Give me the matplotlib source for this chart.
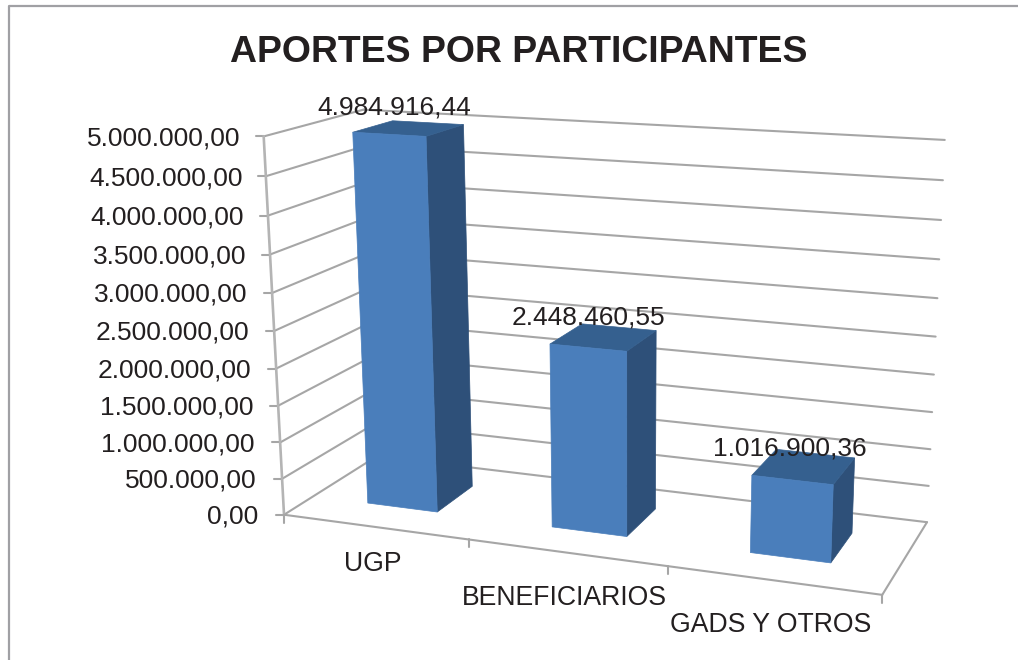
import numpy as np
import matplotlib
matplotlib.use('Agg')
import matplotlib.pyplot as plt
from matplotlib.patches import Polygon

plt.rcParams['font.family'] = ['Liberation Sans', 'DejaVu Sans']

categories = ['UGP', 'BENEFICIARIOS', 'GADS Y OTROS']
aportes = [4984916.44, 2448460.55, 1016900.36]
aporte_labels = ['4.984.916,44', '2.448.460,55', '1.016.900,36']
y_ticks = [0, 500000, 1000000, 1500000, 2000000, 2500000,
           3000000, 3500000, 4000000, 4500000, 5000000]
y_labels = ['0,00', '500.000,00', '1.000.000,00', '1.500.000,00', '2.000.000,00',
            '2.500.000,00', '3.000.000,00', '3.500.000,00', '4.000.000,00',
            '4.500.000,00', '5.000.000,00']
y_max = 5000000.0

# corners of the 3d box in image pixels: (u, v, depth) -> (x, y)
box = [((0, 0, 0), (283, 515)), ((0, 1, 0), (265, 136)),
       ((0, 0, 1), (378, 456)), ((0, 1, 1), (362, 110)),
       ((1, 0, 1), (927, 522)), ((1, 1, 1), (945, 140)),
       ((1, 0, 0), (882, 595))]

rows = []
for (u, v, d), (x, y) in box:
    x, y = x / 1000, y / 1000
    rows.append([u, v, d, 1, 0, 0, 0, 0, -x*u, -x*v, -x*d, -x])
    rows.append([0, 0, 0, 0, u, v, d, 1, -y*u, -y*v, -y*d, -y])
M = np.linalg.svd(np.array(rows))[2][-1].reshape(3, 4)


def project(u, value, d):
    p = M @ np.array([u, value / y_max, d, 1.0])
    return 1000 * p[0] / p[2], 1000 * p[1] / p[2]


def line(a, b, **kw):
    pts = [project(*a), project(*b)]
    ax.plot([pts[0][0], pts[1][0]], [pts[0][1], pts[1][1]], **kw)


fig = plt.figure(figsize=(10.18, 6.6), dpi=100)
ax = fig.add_axes([0, 0, 1, 1])
ax.set_xlim(0, 1018)
ax.set_ylim(660, 0)
ax.axis('off')

# outer chart frame, right and bottom are cut off in the original
ax.plot([9.5, 9.5, 1018], [660, 6, 6], color='#a0a0a4', lw=1.6, zorder=1)

grid = dict(color='#a6a6a6', lw=1.5, zorder=2, solid_capstyle='round')
for val, lab in zip(y_ticks, y_labels):
    line((0, val, 0), (0, val, 1), **grid)
    line((0, val, 1), (1, val, 1), **grid)
    x, y = project(0, val, 0)
    ax.plot([x - 8, x], [y, y], **grid)
    ax.text(x - 23 - 3 * (1 - val / y_max), y + 2, lab, ha='right', va='center',
            fontsize=19, color='#231f20')

line((0, 0, 0), (0, y_max, 0), color='#b4b4b4', lw=1.9, zorder=2)
line((0, 0, 0), (1, 0, 0), **grid)
line((1, 0, 0), (1, 0, 1), **grid)
for u in [0, 1/3, 2/3, 1]:
    x, y = project(u, 0, 0)
    ax.plot([x, x], [y, y + 8], **grid)

# bars
bar_w = 0.385
d0, d1 = 0.30, 0.72
label_off = [(-15, -21), (-15, -20), (-14, -18)]
for i, val in enumerate(aportes):
    u0 = (i + 0.5) / 3 - bar_w / 6
    u1 = u0 + bar_w / 3
    faces = [
        ('#2e5079', [(u1, 0, d0), (u1, 0, d1), (u1, val, d1), (u1, val, d0)]),
        ('#35608f', [(u0, val, d0), (u1, val, d0), (u1, val, d1), (u0, val, d1)]),
        ('#4a7ebb', [(u0, 0, d0), (u1, 0, d0), (u1, val, d0), (u0, val, d0)]),
    ]
    for col, corners in faces:
        ax.add_patch(Polygon([project(*c) for c in corners], closed=True,
                             facecolor=col, edgecolor=col, lw=0.5, zorder=3))
    x, y = project((u0 + u1) / 2, val, (d0 + d1) / 2)
    ax.text(x + label_off[i][0], y + label_off[i][1], aporte_labels[i], ha='center',
            va='center', fontsize=19, color='#231f20', zorder=5)

label_dy = [37, 45, 45]
for i, cat in enumerate(categories):
    x, y = project((i + 0.5) / 3, 0, 0)
    ax.text(x - 2, y + label_dy[i], cat, ha='center', va='center',
            fontsize=19.2, color='#231f20')

ax.text(519, 52, 'APORTES POR PARTICIPANTES', ha='center', va='center',
        fontsize=26.9, fontweight='bold', color='#231f20')

plt.savefig('out.png', dpi=100)
